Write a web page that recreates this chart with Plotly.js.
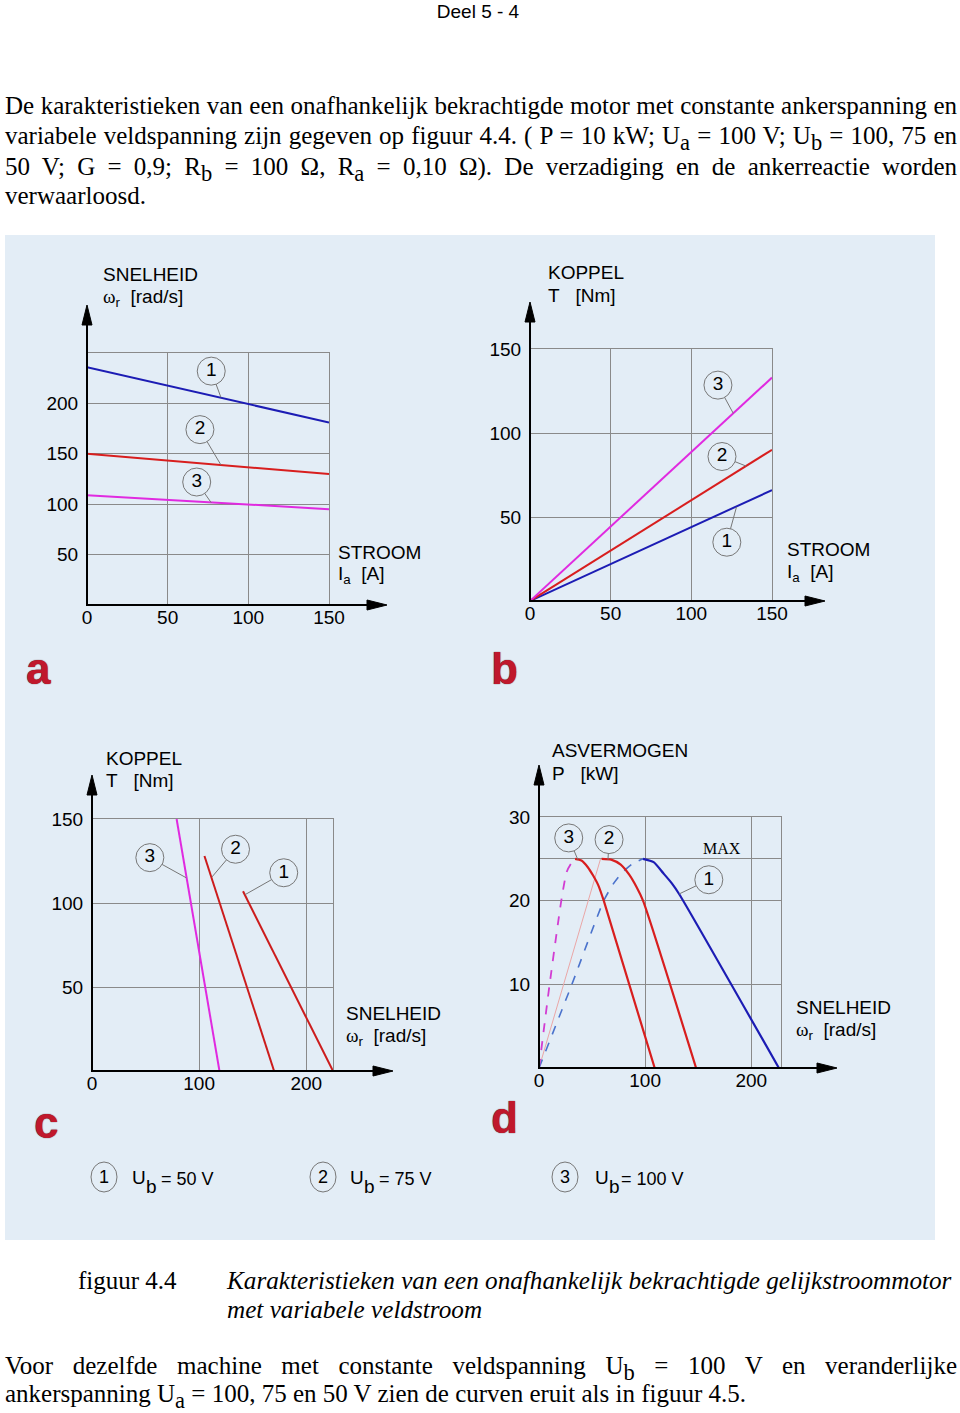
<!DOCTYPE html>
<html><head><meta charset="utf-8">
<script src="https://cdn.plot.ly/plotly-3.0.1.min.js"></script>
<style>
body{margin:0;background:#fff;}
#wrap{position:relative;width:960px;height:1413px;overflow:hidden;}
#plot{position:absolute;left:0;top:0;width:960px;height:1413px;}
.t{position:absolute;font-family:"Liberation Serif","Times New Roman",serif;font-size:25px;line-height:30px;white-space:nowrap;color:#000;}
.j{text-align:justify;text-align-last:justify;white-space:normal;left:5px;width:952px;}
.t sub{font-size:0.9em;vertical-align:-0.25em;line-height:0;}
</style></head>
<body><div id="wrap"><div id="plot"></div>
<div class="t" style="left:0;width:956px;top:0;text-align:center;font-family:'Liberation Sans',Arial,sans-serif;font-size:19px;line-height:24px;">Deel 5 - 4</div>
<div class="t j" style="top:91px;">De karakteristieken van een onafhankelijk bekrachtigde motor met constante ankerspanning en</div>
<div class="t j" style="top:121px;">variabele veldspanning zijn gegeven op figuur 4.4. ( P = 10 kW; U<sub>a</sub> = 100 V; U<sub>b</sub> = 100, 75 en</div>
<div class="t j" style="top:152px;">50 V; G = 0,9; R<sub>b</sub> = 100 Ω, R<sub>a</sub> = 0,10 Ω). De verzadiging en de ankerreactie worden</div>
<div class="t" style="left:5px;top:181px;">verwaarloosd.</div>
<div class="t" style="left:78px;top:1266px;">figuur 4.4</div>
<div class="t" style="left:227px;top:1266px;font-style:italic;font-size:25.2px;">Karakteristieken van een onafhankelijk bekrachtigde gelijkstroommotor</div>
<div class="t" style="left:227px;top:1295px;font-style:italic;font-size:25.2px;">met variabele veldstroom</div>
<div class="t j" style="top:1351px;">Voor dezelfde machine met constante veldspanning U<sub>b</sub> = 100 V en veranderlijke</div>
<div class="t" style="left:5px;top:1379px;">ankerspanning U<sub>a</sub> = 100, 75 en 50 V zien de curven eruit als in figuur 4.5.</div>
</div>
<script>
// ---------- DATA ----------
// Panel a: speed [rad/s] vs armature current [A]
const currentA = [0, 150];
const speedA1 = [236, 181];
const speedA2 = [150, 130];
const speedA3 = [109, 95];
// Panel b: torque [Nm] vs armature current [A]
const currentB = [0, 150];
const torqueB1 = [0, 66];
const torqueB2 = [0, 90];
const torqueB3 = [0, 133];
// Panel c: torque [Nm] vs speed [rad/s]
const speedC1 = [141, 225], torqueC1 = [107, 0];
const speedC2 = [105, 170], torqueC2 = [128, 0];
const speedC3 = [79, 119],  torqueC3 = [150, 0];
// Panel d: shaft power [kW] vs speed [rad/s]
const speedD1rise = [0, 31, 61, 70, 78, 88, 98];
const powerD1rise = [0, 10, 20, 22, 23.3, 24.4, 25];
const speedD1 = [98, 108, 117, 125, 132, 226];
const powerD1 = [25, 24.6, 23.3, 22.1, 20.8, 0];
const speedD2rise = [0, 58];
const powerD2rise = [0, 25];
const speedD2 = [59, 68, 77, 85, 92, 98, 148];
const powerD2 = [25, 24.9, 24.3, 23.1, 21.6, 20, 0];
const speedD3rise = [0, 10, 21, 26, 30, 34];
const powerD3rise = [0, 10, 20, 23.4, 24.4, 25];
const speedD3 = [34, 40, 46, 51, 56, 61, 109];
const powerD3 = [25, 24.8, 24, 23, 21.8, 20, 0];
// Tick values / labels
const ticksAx = [0, 50, 100, 150], ticksAy = [50, 100, 150, 200];
const ticksBx = [0, 50, 100, 150], ticksBy = [50, 100, 150];
const ticksCx = [0, 100, 200],     ticksCy = [50, 100, 150];
const ticksDx = [0, 100, 200],     ticksDy = [10, 20, 25, 30];
const tickTextDy = ['10', '20', '', '30'];
// Curve labels
const curveIds = ['1', '2', '3'];
const legendValues = ['= 50 V', '= 75 V', '= 100 V'];

// ---------- STYLE ----------
const FONT = 'Arial, "Liberation Sans", sans-serif';
const SERIF = '"Liberation Serif", "Times New Roman", serif';
const BG = '#e3edf6';
const BLUE = '#1c1cb4', RED = '#d81e1e', MAG = '#e02ae0', DRED = '#cc1c1c';
const GRID = '#8a8a8a';
const W = 960, H = 1413;
const X = p => p / W, Y = p => 1 - p / H;

// panel geometry (pixels)
const P = {
  a: {x: [87, 329], y: [605, 353], xe: 387, yt: 305},
  b: {x: [530, 772], y: [601, 349], xe: 825, yt: 302},
  c: {x: [92, 333], y: [1071, 819], xe: 393, yt: 775},
  d: {x: [539, 781], y: [1068, 817], xe: 837, yt: 765}
};

function xa(p, range, tv, tt, anchor) {
  return {domain: [X(p.x[0]), X(p.x[1])], range: range, anchor: anchor,
    tickmode: 'array', tickvals: tv, ticktext: tt || tv.map(String),
    ticks: '', showgrid: true, gridcolor: GRID, gridwidth: 1, zeroline: false,
    showline: true, mirror: true, linecolor: GRID, linewidth: 1,
    tickfont: {family: FONT, size: 19, color: '#000'}, ticklabelstandoff: -5, fixedrange: true};
}
function ya(p, range, tv, tt, anchor) {
  const o = xa({x: [0, 0]}, range, tv, tt, anchor);
  o.domain = [Y(p.y[0]), Y(p.y[1])];
  o.ticklabelstandoff = 4;
  return o;
}

const layout = {
  width: W, height: H, margin: {l: 0, r: 0, t: 0, b: 0},
  paper_bgcolor: '#ffffff', plot_bgcolor: 'rgba(0,0,0,0)', showlegend: false,
  xaxis: xa(P.a, [0, 150], ticksAx, null, 'y'),
  yaxis: ya(P.a, [0, 250], ticksAy, null, 'x'),
  xaxis2: xa(P.b, [0, 150], ticksBx, null, 'y2'),
  yaxis2: ya(P.b, [0, 150], ticksBy, null, 'x2'),
  xaxis3: xa(P.c, [0, 225], ticksCx, null, 'y3'),
  yaxis3: ya(P.c, [0, 150], ticksCy, null, 'x3'),
  xaxis4: xa(P.d, [0, 228], ticksDx, null, 'y4'),
  yaxis4: ya(P.d, [0, 30], ticksDy, tickTextDy, 'x4'),
  shapes: [], annotations: []
};

// background panel
layout.shapes.push({type: 'rect', xref: 'paper', yref: 'paper', layer: 'below',
  x0: X(5), x1: X(935), y0: Y(1240), y1: Y(235), fillcolor: BG, line: {width: 0}});

// black axes with arrows
Object.values(P).forEach(p => {
  const ox = p.x[0], oy = p.y[0];
  layout.shapes.push({type: 'line', xref: 'paper', yref: 'paper', x0: X(ox), y0: Y(oy), x1: X(p.xe - 15), y1: Y(oy), line: {color: '#000', width: 2}});
  layout.shapes.push({type: 'line', xref: 'paper', yref: 'paper', x0: X(ox), y0: Y(oy + 1), x1: X(ox), y1: Y(p.yt + 15), line: {color: '#000', width: 2}});
  layout.shapes.push({type: 'path', xref: 'paper', yref: 'paper', fillcolor: '#000', line: {color: '#000', width: 1},
    path: `M ${X(p.xe)} ${Y(oy)} L ${X(p.xe - 20)} ${Y(oy - 5)} L ${X(p.xe - 20)} ${Y(oy + 5)} Z`});
  layout.shapes.push({type: 'path', xref: 'paper', yref: 'paper', fillcolor: '#000', line: {color: '#000', width: 1},
    path: `M ${X(ox)} ${Y(p.yt)} L ${X(ox - 5)} ${Y(p.yt + 20)} L ${X(ox + 5)} ${Y(p.yt + 20)} Z`});
});

// axis titles
function lab(text, xp, yp, extra) {
  layout.annotations.push(Object.assign({text: text, xref: 'paper', yref: 'paper', x: X(xp), y: Y(yp),
    xanchor: 'left', yanchor: 'middle', showarrow: false, font: {family: FONT, size: 19, color: '#000'}}, extra || {}));
}
const OMEGA = '<span style="font-family:Liberation Serif">ω</span><sub>r</sub>\u00a0\u00a0[rad/s]';
const IA = 'I<sub>a</sub>\u00a0\u00a0[A]';
lab('SNELHEID', 101, 274); lab(OMEGA, 101, 298);
lab('STROOM', 336, 552); lab(IA, 336, 575);
lab('KOPPEL', 546, 272); lab('T\u00a0\u00a0\u00a0[Nm]', 546, 295);
lab('STROOM', 785, 549); lab(IA, 785, 573);
lab('KOPPEL', 104, 758); lab('T\u00a0\u00a0\u00a0[Nm]', 104, 781);
lab('SNELHEID', 344, 1013); lab(OMEGA, 344, 1037);
lab('ASVERMOGEN', 550, 750); lab('P\u00a0\u00a0\u00a0[kW]', 550, 773);
lab('SNELHEID', 794, 1007); lab(OMEGA, 794, 1031);

// panel letters
[['a', 38, 668], ['b', 504, 668], ['c', 46, 1122], ['d', 504, 1117]].forEach(l => {
  layout.annotations.push({text: l[0], xref: 'paper', yref: 'paper', x: X(l[1]), y: Y(l[2]),
    xanchor: 'center', yanchor: 'middle', showarrow: false,
    font: {family: FONT, size: 44, color: '#c0182c', weight: 'bold', shadow: '0px 0px 1px #3a0008'}});
});

// MAX label
layout.annotations.push({text: 'MAX', xref: 'x4', yref: 'y4', x: 172, y: 25, xanchor: 'center', yanchor: 'bottom',
  showarrow: false, font: {family: SERIF, size: 16, color: '#000'}});

// legend
const legCirc = [104, 323, 565], legTxt = [130, 348, 593];
curveIds.forEach((id, i) => {
  layout.shapes.push({type: 'circle', xref: 'paper', yref: 'paper', xsizemode: 'pixel', ysizemode: 'pixel',
    xanchor: X(legCirc[i]), yanchor: Y(1177), x0: -13, x1: 13, y0: -15, y1: 15,
    line: {color: '#777', width: 1}, fillcolor: BG});
  layout.annotations.push({text: id, xref: 'paper', yref: 'paper', x: X(legCirc[i]), y: Y(1177),
    xanchor: 'center', yanchor: 'middle', showarrow: false, font: {family: FONT, size: 18, color: '#000'}});
  layout.annotations.push({text: 'U', xref: 'paper', yref: 'paper', x: X(legTxt[i]), y: Y(1177),
    xanchor: 'left', yanchor: 'middle', showarrow: false, font: {family: FONT, size: 19, color: '#000'}});
  layout.annotations.push({text: 'b', xref: 'paper', yref: 'paper', x: X(legTxt[i] + 14), y: Y(1186),
    xanchor: 'left', yanchor: 'middle', showarrow: false, font: {family: FONT, size: 19, color: '#000'}});
  layout.annotations.push({text: legendValues[i], xref: 'paper', yref: 'paper', x: X(legTxt[i] + (i === 2 ? 26 : 29)), y: Y(1179),
    xanchor: 'left', yanchor: 'middle', showarrow: false, font: {family: FONT, size: 18, color: '#000'}});
});

// ---------- TRACES ----------
const traces = [];
function line(x, y, color, xa, ya) {
  traces.push({type: 'scatter', mode: 'lines', x: x, y: y, xaxis: xa, yaxis: ya,
    line: {color: color, width: 2}, hoverinfo: 'skip'});
}
line(currentA, speedA1, BLUE, 'x', 'y');
line(currentA, speedA2, RED, 'x', 'y');
line(currentA, speedA3, MAG, 'x', 'y');
line(currentB, torqueB1, BLUE, 'x2', 'y2');
line(currentB, torqueB2, RED, 'x2', 'y2');
line(currentB, torqueB3, MAG, 'x2', 'y2');
line(speedC1, torqueC1, DRED, 'x3', 'y3');
line(speedC2, torqueC2, DRED, 'x3', 'y3');
line(speedC3, torqueC3, MAG, 'x3', 'y3');
function curve(x, y, color, width, dash) {
  traces.push({type: 'scatter', mode: 'lines', x: x, y: y, xaxis: 'x4', yaxis: 'y4', hoverinfo: 'skip',
    line: {color: color, width: width, dash: dash || 'solid', shape: 'spline', smoothing: 0.6}});
}
curve(speedD2rise, powerD2rise, '#eaa6a6', 1);
curve(speedD1rise, powerD1rise, '#4a72cc', 1.6, 'dash');
curve(speedD3rise, powerD3rise, '#d23cd2', 1.8, 'dash');
curve(speedD1, powerD1, BLUE, 2.2);
curve(speedD2, powerD2, RED, 2.2);
curve(speedD3, powerD3, RED, 2.2);

// curve number callouts, ordered as curveIds: [circle x, circle y, point x, point y]
const callouts = {
  '':  [[77, 232, 83, 206], [70, 174, 83, 139], [68, 122, 77, 101.5]],
  '2': [[122, 35, 128, 56], [119, 86, 134, 80.3], [116.5, 128.5, 126, 111.7]],
  '3': [[179, 118, 143, 105], [134, 132, 112, 115.5], [54, 127, 88, 115]],
  '4': [[160, 22.5, 132, 20.8], [66, 27.3, 65, 24.9], [28, 27.5, 36.6, 24.9]]
};
Object.keys(callouts).forEach(k => {
  const c = callouts[k];
  const lx = [], ly = [];
  c.forEach(r => { lx.push(r[0], r[2], null); ly.push(r[1], r[3], null); });
  traces.push({type: 'scatter', mode: 'lines', x: lx, y: ly, xaxis: 'x' + k, yaxis: 'y' + k,
    line: {color: '#777', width: 1}, hoverinfo: 'skip', cliponaxis: false});
  traces.push({type: 'scatter', mode: 'markers+text', x: c.map(r => r[0]), y: c.map(r => r[1]),
    xaxis: 'x' + k, yaxis: 'y' + k, text: curveIds, textposition: 'middle center',
    textfont: {family: FONT, size: 19, color: '#000'}, cliponaxis: false, hoverinfo: 'skip',
    marker: {symbol: 'circle', size: 28, color: BG, line: {color: '#777', width: 1}}});
});

Plotly.newPlot('plot', traces, layout, {staticPlot: true, displayModeBar: false});
</script>
</body></html>
